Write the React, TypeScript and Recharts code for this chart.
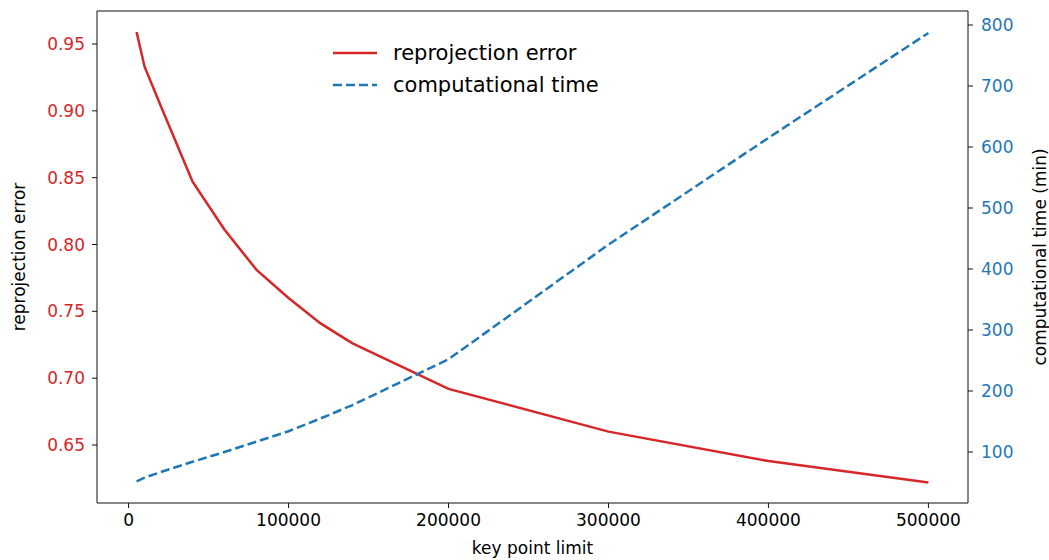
import { Line, LineChart, ReferenceLine, XAxis, YAxis } from 'recharts';

// key point limits tested
const keyPoints = [5000, 10000, 20000, 40000, 60000, 80000, 100000, 120000, 140000, 200000, 300000, 400000, 500000];
// mean reprojection error per run
const reprojError = [0.959, 0.933, 0.904, 0.847, 0.811, 0.781, 0.760, 0.741, 0.726, 0.692, 0.660, 0.638, 0.622];
// total processing time in minutes
const compTime = [52, 58, 67, 84, 100, 117, 134, 155, 177, 252, 440, 615, 787];

const xTicks = [0, 100000, 200000, 300000, 400000, 500000];
const errTicks = [0.65, 0.7, 0.75, 0.8, 0.85, 0.9, 0.95];
const timeTicks = [100, 200, 300, 400, 500, 600, 700, 800];

const RED = '#d62728';
const BLUE = '#1f77b4';
const AXIS = '#111';
const FONT = '"DejaVu Sans", sans-serif';

const ERR_DOMAIN: [number, number] = [0.60661, 0.97469];

const data = keyPoints.map((k, i) => ({ k, err: reprojError[i], time: compTime[i] }));

function LegendBox() {
  const items = [
    { label: 'reprojection error', color: RED, dash: undefined },
    { label: 'computational time', color: BLUE, dash: '9 4' },
  ];
  return (
    <div style={{ position: 'absolute', left: 333, top: 37, fontFamily: FONT, fontSize: 21, color: '#000' }}>
      {items.map((it) => (
        <div key={it.label} style={{ display: 'flex', alignItems: 'center', height: 32 }}>
          <svg width={60} height={10}>
            <line x1={0} y1={5} x2={44} y2={5} stroke={it.color} strokeWidth={2.5} strokeDasharray={it.dash} />
          </svg>
          <span>{it.label}</span>
        </div>
      ))}
    </div>
  );
}

export default function App() {
  return (
    <div style={{ position: 'absolute', left: 0, top: 0, width: 1049, height: 560, background: '#fff' }}>
      <LineChart width={1049} height={560} data={data} margin={{ top: 11, right: 0, bottom: 0, left: 0 }}>
        <XAxis
          dataKey="k"
          type="number"
          domain={[-19750, 524750]}
          ticks={xTicks}
          allowDataOverflow
          height={57}
          tickSize={5}
          tickMargin={6}
          stroke={AXIS}
          tick={{ fill: '#000', fontSize: 17, fontFamily: FONT }}
          label={{ value: 'key point limit', position: 'center', dy: 16, fill: '#000', fontSize: 17, fontFamily: FONT }}
        />
        <YAxis
          yAxisId="err"
          type="number"
          domain={ERR_DOMAIN}
          ticks={errTicks}
          allowDataOverflow
          width={97}
          tickSize={5}
          tickMargin={7}
          stroke={AXIS}
          tickFormatter={(v: number) => v.toFixed(2)}
          tick={{ fill: RED, fontSize: 17, fontFamily: FONT }}
          label={{ value: 'reprojection error', angle: -90, position: 'center', dx: -30, fill: '#000', fontSize: 17, fontFamily: FONT }}
        />
        <YAxis
          yAxisId="time"
          orientation="right"
          type="number"
          domain={[16.4, 822.95]}
          ticks={timeTicks}
          allowDataOverflow
          width={81}
          tickSize={5}
          tickMargin={8}
          stroke={AXIS}
          tick={{ fill: BLUE, fontSize: 17, fontFamily: FONT }}
          label={{ value: 'computational time (min)', angle: -90, position: 'center', dx: 31, fill: '#000', fontSize: 17, fontFamily: FONT }}
        />
        {/* top edge of the frame */}
        <ReferenceLine yAxisId="err" y={ERR_DOMAIN[1]} stroke={AXIS} strokeWidth={1} ifOverflow="extendDomain" />
        <Line
          yAxisId="err"
          dataKey="err"
          type="linear"
          stroke={RED}
          strokeWidth={2.5}
          dot={false}
          isAnimationActive={false}
        />
        <Line
          yAxisId="time"
          dataKey="time"
          type="linear"
          stroke={BLUE}
          strokeWidth={2.5}
          strokeDasharray="9 4"
          dot={false}
          isAnimationActive={false}
        />
      </LineChart>
      <LegendBox />
    </div>
  );
}
